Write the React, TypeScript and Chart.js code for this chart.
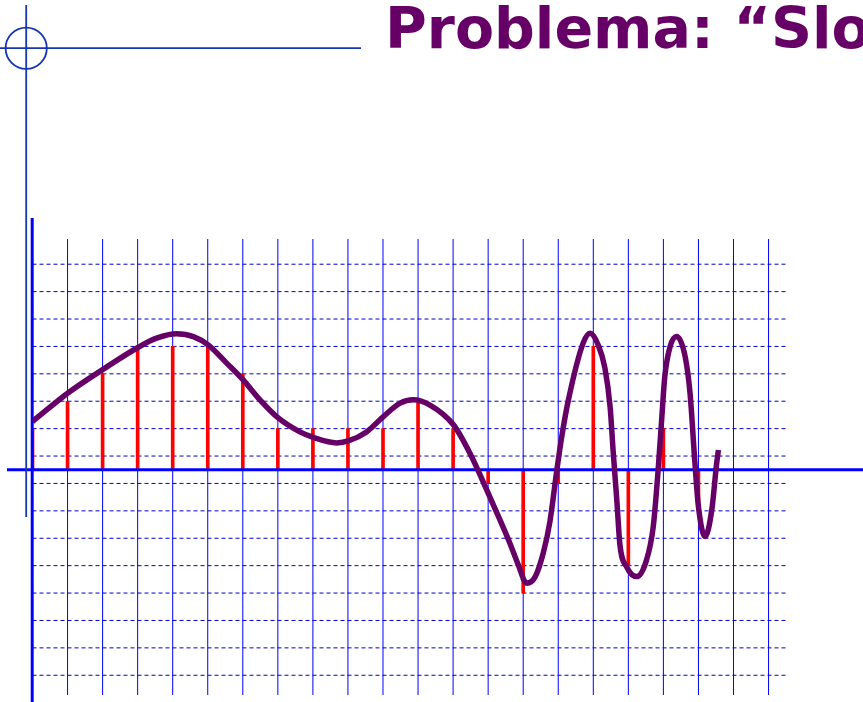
import React, { useEffect, useRef } from "react";
import { Chart, registerables } from "chart.js";

Chart.register(...registerables);

// Sample (stem) positions and values, in grid units
const sampleIndex = [0, 1, 2, 3, 4, 5, 6, 7, 8, 9, 10, 11, 12, 13, 14, 15, 16, 17, 18, 19];
const sampleValues = [1.5, 2.5, 3.5, 4.5, 4.5, 4.5, 3.5, 1.5, 1.5, 1.5, 1.5, 2.5, 1.5, -0.5, -4.5, -0.5, 4.5, -3.5, 1.5, -1.5];

// Continuous signal
const curveX = [
  0.0, 1.02, 2.02, 3.02, 3.54, 4.11, 4.59, 5.02, 5.54, 6.01, 6.49, 7.01, 7.63, 8.01, 8.68, 9.01,
  9.54, 10.01, 10.49, 10.86, 11.34, 12.01, 12.48, 13.0, 13.34, 13.62, 13.86, 14.1, 14.34, 14.57,
  14.76, 14.96, 15.1, 15.29, 15.71, 15.91, 16.14, 16.33, 16.48, 16.57, 16.67, 16.76, 16.95,
  17.24, 17.52, 17.71, 17.85, 17.95, 18.04, 18.19, 18.38, 18.62, 18.76, 18.9, 19.0, 19.19, 19.38,
  19.52, 19.57,
];
const curveY = [
  1.76, 2.81, 3.67, 4.47, 4.8, 4.96, 4.86, 4.55, 3.89, 3.28, 2.55, 1.89, 1.38, 1.18, 0.98, 1.05,
  1.39, 1.94, 2.43, 2.55, 2.36, 1.64, 0.6, -0.85, -1.84, -2.68, -3.47, -4.14, -3.91, -3.05,
  -1.91, -0.01, 1.21, 2.55, 4.62, 4.98, 4.55, 3.72, 2.29, 0.61, -1.1, -2.74, -3.54,
  -3.9, -3.29, -2.08, -0.01, 1.82, 3.4, 4.49, 4.86, 4.13, 2.79, 0.24, -1.35, -2.44, -1.47,
  0.24, 0.72,
];

// Grid lines
const gridXTicks = [1, 2, 3, 4, 5, 6, 7, 8, 9, 10, 11, 12, 13, 14, 15, 16, 17, 18, 19, 20, 21];
const gridYTicks = [-7.5, -6.5, -5.5, -4.5, -3.5, -2.5, -1.5, -0.5, 0.5, 1.5, 2.5, 3.5, 4.5, 5.5, 6.5, 7.5];

const titleText = "Problema: \u201CSlo";

const W = 863;
const H = 702;

const gridPlugin = {
  id: "gridAndAxes",
  beforeDatasetsDraw(chart: any) {
    const { ctx, chartArea, scales } = chart;
    const xs = scales.x;
    const ys = scales.y;
    ctx.save();
    ctx.strokeStyle = "#0000ff";
    ctx.lineWidth = 1;
    ctx.setLineDash([]);
    for (const t of gridXTicks) {
      const px = xs.getPixelForValue(t);
      ctx.beginPath();
      ctx.moveTo(px, chartArea.top);
      ctx.lineTo(px, chartArea.bottom);
      ctx.stroke();
    }
    ctx.strokeStyle = "#0000cc";
    ctx.setLineDash([4, 3]);
    for (const t of gridYTicks) {
      const py = ys.getPixelForValue(t);
      ctx.beginPath();
      ctx.moveTo(chartArea.left, py);
      ctx.lineTo(chartArea.right, py);
      ctx.stroke();
    }
    ctx.restore();
  },
  afterDatasetDraw(chart: any, args: any) {
    if (args.index !== 0) return;
    const { ctx, scales } = chart;
    const x0 = scales.x.getPixelForValue(0);
    const y0 = scales.y.getPixelForValue(0);
    ctx.save();
    ctx.strokeStyle = "#0000ff";
    ctx.lineWidth = 3;
    ctx.setLineDash([]);
    ctx.beginPath();
    ctx.moveTo(7, y0);
    ctx.lineTo(W, y0);
    ctx.stroke();
    ctx.beginPath();
    ctx.moveTo(x0 - 0.3, 218);
    ctx.lineTo(x0 - 0.3, H);
    ctx.stroke();
    ctx.restore();
  },
};

export default function App() {
  const canvasRef = useRef<HTMLCanvasElement | null>(null);

  useEffect(() => {
    if (!canvasRef.current) return;
    const chart = new Chart(canvasRef.current, {
      type: "bar",
      data: {
        datasets: [
          {
            type: "bar",
            label: "samples",
            data: sampleIndex.map((x, i) => ({ x, y: sampleValues[i] })),
            backgroundColor: "#ff0000",
            borderWidth: 0,
            barThickness: 3,
            order: 2,
          } as any,
          {
            type: "line",
            label: "signal",
            data: curveX.map((x, i) => ({ x, y: curveY[i] })),
            borderColor: "#660066",
            borderWidth: 5.5,
            pointRadius: 0,
            fill: false,
            cubicInterpolationMode: "monotone",
            borderJoinStyle: "round",
            order: 1,
          } as any,
        ],
      },
      options: {
        animation: false,
        responsive: false,
        devicePixelRatio: 1,
        layout: { padding: { left: 32.5, top: 239, right: W - 788, bottom: H - 695 } },
        plugins: { legend: { display: false }, tooltip: { enabled: false } },
        events: [],
        scales: {
          x: { type: "linear", min: 0, max: 21.555, display: false, offset: false },
          y: { type: "linear", min: -8.22, max: 8.42, display: false },
        },
      },
      plugins: [gridPlugin],
    } as any);
    return () => chart.destroy();
  }, []);

  return (
    <div
      style={{
        position: "fixed",
        left: 0,
        top: 0,
        width: W,
        height: H,
        overflow: "hidden",
        background: "#ffffff",
      }}
    >
      <canvas ref={canvasRef} width={W} height={H} style={{ position: "absolute", left: 0, top: 0, display: "block" }} />
      <svg
        width={W}
        height={H}
        style={{ position: "absolute", left: 0, top: 0, pointerEvents: "none" }}
      >
        <line x1={0} y1={48.2} x2={361} y2={48.2} stroke="#1836b0" strokeWidth={1.8} />
        <line x1={26.2} y1={5} x2={26.2} y2={517} stroke="#1836b0" strokeWidth={1.8} />
        <circle cx={26.2} cy={48.2} r={20.6} fill="none" stroke="#1836b0" strokeWidth={1.8} />
        <text
          x={385}
          y={48.3}
          fontFamily="'DejaVu Sans', sans-serif"
          fontWeight="bold"
          fontSize={57}
          fill="#660066"
        >
          {titleText}
        </text>
      </svg>
    </div>
  );
}
